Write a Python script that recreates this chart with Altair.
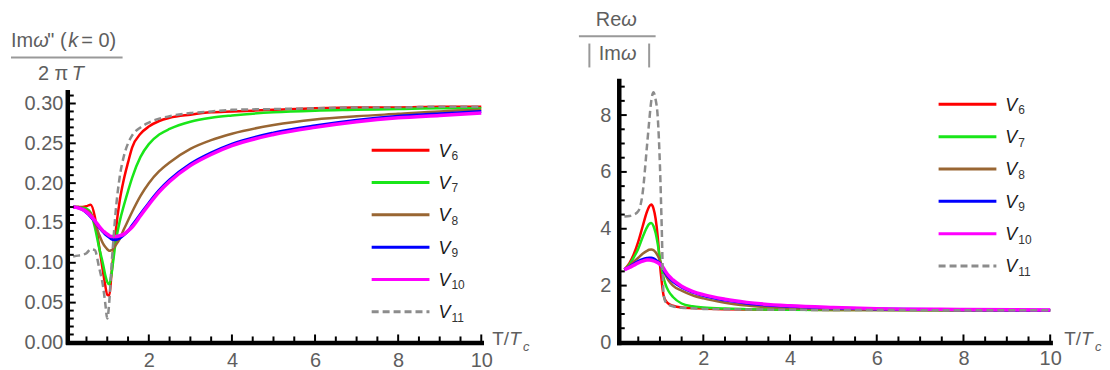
import altair as alt
import pandas as pd
import numpy as np

FONT = "Liberation Sans"
TXT = "#5e5e5e"

NAMES = ["V6", "V7", "V8", "V9", "V10", "V11"]
SUBS = ["6", "7", "8", "9", "10", "11"]
COLORS = ["#ff0000", "#19e619", "#996633", "#0000ff", "#ff00ff", "#8c8c8c"]
WIDTHS = [2.5, 2.5, 2.5, 3.0, 3.5, 2.5]
DASHED = [False, False, False, False, False, True]

# Left panel: Im w'' (k=0) / (2 pi T)  vs  T/Tc
L_X = [0.18, 0.3, 0.4, 0.5, 0.6, 0.7, 0.8, 0.9, 0.95, 1.0, 1.05, 1.1, 1.15, 1.2, 1.3, 1.4,
       1.5, 1.6, 1.8, 2.0, 2.25, 2.5, 3.0, 3.5, 4.0, 5.0, 6.0, 7.0, 8.0, 9.0, 10.0]
L_V6 = [0.170, 0.170, 0.170, 0.171, 0.173, 0.158, 0.122, 0.088, 0.072, 0.060, 0.059, 0.085,
        0.112, 0.138, 0.178, 0.205, 0.226, 0.245, 0.262, 0.271, 0.278, 0.282, 0.286, 0.289,
        0.290, 0.292, 0.294, 0.295, 0.295, 0.296, 0.296]
L_V7 = [0.170, 0.170, 0.169, 0.168, 0.163, 0.145, 0.120, 0.098, 0.085, 0.076, 0.073, 0.085,
        0.105, 0.125, 0.152, 0.172, 0.190, 0.207, 0.233, 0.249, 0.261, 0.268, 0.277, 0.282,
        0.285, 0.289, 0.291, 0.292, 0.293, 0.294, 0.294]
L_V8 = [0.170, 0.170, 0.168, 0.166, 0.162, 0.150, 0.136, 0.124, 0.120, 0.117, 0.115, 0.116,
        0.118, 0.122, 0.130, 0.142, 0.153, 0.164, 0.184, 0.200, 0.215, 0.226, 0.243, 0.254,
        0.262, 0.273, 0.280, 0.284, 0.287, 0.290, 0.292]
L_V9 = [0.170, 0.169, 0.167, 0.163, 0.158, 0.152, 0.145, 0.139, 0.136, 0.134, 0.132, 0.130,
        0.129, 0.129, 0.131, 0.135, 0.140, 0.147, 0.161, 0.175, 0.191, 0.204, 0.224, 0.238,
        0.249, 0.263, 0.272, 0.279, 0.284, 0.287, 0.290]
L_V10 = [0.170, 0.169, 0.167, 0.164, 0.159, 0.153, 0.146, 0.140, 0.138, 0.136, 0.134, 0.133,
         0.133, 0.133, 0.134, 0.136, 0.140, 0.145, 0.159, 0.173, 0.189, 0.202, 0.222, 0.236,
         0.247, 0.261, 0.270, 0.277, 0.282, 0.285, 0.288]
L_V11 = [0.108, 0.109, 0.110, 0.112, 0.117, 0.116, 0.095, 0.070, 0.050, 0.030, 0.052, 0.095,
         0.130, 0.163, 0.208, 0.234, 0.250, 0.260, 0.270, 0.276, 0.281, 0.284, 0.288, 0.290,
         0.292, 0.293, 0.294, 0.295, 0.295, 0.296, 0.296]

# Right panel: Re w / |Im w|  vs  T/Tc
R_X = [0.18, 0.3, 0.4, 0.5, 0.6, 0.7, 0.75, 0.8, 0.85, 0.9, 0.95, 1.0, 1.04, 1.08, 1.12, 1.2,
       1.3, 1.5, 1.75, 2.0, 2.5, 3.0, 4.0, 5.0, 6.0, 8.0, 10.0]
R_V6 = [2.56, 2.80, 3.12, 3.55, 4.08, 4.60, 4.78, 4.85, 4.72, 4.35, 3.70, 2.75, 2.15, 1.68,
        1.50, 1.36, 1.29, 1.23, 1.21, 1.19, 1.17, 1.16, 1.15, 1.14, 1.14, 1.13, 1.13]
R_V7 = [2.56, 2.75, 3.00, 3.30, 3.70, 4.05, 4.17, 4.20, 4.10, 3.85, 3.45, 2.95, 2.60, 2.30,
        2.08, 1.80, 1.60, 1.37, 1.27, 1.23, 1.19, 1.17, 1.15, 1.14, 1.14, 1.13, 1.13]
R_V8 = [2.56, 2.70, 2.85, 2.98, 3.12, 3.22, 3.26, 3.27, 3.25, 3.17, 3.05, 2.88, 2.72, 2.55,
        2.40, 2.18, 2.00, 1.82, 1.66, 1.55, 1.40, 1.30, 1.20, 1.16, 1.15, 1.14, 1.13]
R_V9 = [2.56, 2.66, 2.76, 2.85, 2.92, 2.96, 2.97, 2.97, 2.95, 2.90, 2.84, 2.78, 2.70, 2.58,
        2.46, 2.30, 2.15, 1.94, 1.77, 1.65, 1.49, 1.38, 1.27, 1.21, 1.18, 1.15, 1.13]
R_V10 = [2.56, 2.64, 2.72, 2.80, 2.86, 2.90, 2.90, 2.89, 2.87, 2.84, 2.80, 2.75, 2.70, 2.62,
         2.52, 2.35, 2.20, 1.98, 1.80, 1.68, 1.52, 1.41, 1.29, 1.23, 1.19, 1.16, 1.14]
R_V11 = [4.43, 4.45, 4.50, 4.62, 5.25, 6.90, 7.75, 8.50, 8.80, 8.55, 7.90, 6.20, 4.10, 1.80,
         1.45, 1.33, 1.27, 1.22, 1.20, 1.18, 1.17, 1.16, 1.15, 1.14, 1.14, 1.13, 1.13]

L_YTICKS = [0.0, 0.05, 0.10, 0.15, 0.20, 0.25, 0.30]
R_YTICKS = [0, 2, 4, 6, 8]
XTICKS = [2, 4, 6, 8, 10]

ONE = pd.DataFrame({"k": [0]})
H = 263
NB = "\u00a0"
TICKCOL = "#000000"


def text(s, x, y, size, style="normal", color=TXT, align="left"):
    return alt.Chart(ONE).mark_text(
        text=s, fontSize=size, fontStyle=style, font=FONT, color=color,
        align=align, baseline="alphabetic"
    ).encode(x=alt.value(x), y=alt.value(y))


def vrule(x1, x2, y1, y2, color, width, dash=False):
    kw = dict(color=color, strokeWidth=width)
    if dash:
        kw["strokeDash"] = [7, 4]
    return alt.Chart(ONE).mark_rule(**kw).encode(
        x=alt.value(x1), x2=alt.value(x2), y=alt.value(y1), y2=alt.value(y2))


def panel(xs, ys, W, ydom, ytop, yvals, yfmt, ylabpad, xlabpad, ystep, ymajor,
          leg_x, leg_y0, extras, ydomain_line):
    xsc = alt.Scale(domain=[0.05, 10], nice=False, zero=False)
    ysc = alt.Scale(domain=ydom, nice=False, zero=False)
    common = dict(title=None, grid=False, ticks=False, tickSize=0,
                  labelFontSize=20, labelFont=FONT, labelColor=TXT,
                  labelFlush=False, labelOverlap=False,
                  domainColor="#000000", domainWidth=4.5, domainCap="square")
    xax = alt.Axis(values=XTICKS, format="d", labelPadding=xlabpad, domain=True, **common)
    yax = alt.Axis(values=yvals, format=yfmt, labelPadding=ylabpad, domain=ydomain_line,
                   **common)
    X = alt.X("x:Q", scale=xsc, axis=xax)
    Y = alt.Y("y:Q", scale=ysc, axis=yax)

    layers = []
    # curves (V11 drawn last, on top)
    for i, name in enumerate(NAMES):
        df = pd.DataFrame({"x": xs, "y": ys[i]})
        kw = dict(color=COLORS[i], strokeWidth=WIDTHS[i], interpolate="monotone")
        if DASHED[i]:
            kw["strokeDash"] = [7, 4]
        layers.append(alt.Chart(df).mark_line(**kw).encode(x=X, y=Y))

    # y axis line only up to the plotted range (left panel)
    if not ydomain_line:
        layers.append(alt.Chart(pd.DataFrame({"y": [0.0], "y2": [ytop]})).mark_rule(
            color="#000000", strokeWidth=4.5, strokeCap="square").encode(
            y=Y, y2="y2:Q", x=alt.value(0)))
    # inward ticks
    xt = np.arange(1, 21) * 0.5
    xmaj = np.isclose(xt % 2, 0)
    layers.append(alt.Chart(pd.DataFrame({"x": xt[~xmaj]})).mark_rule(
        color=TICKCOL, strokeWidth=2).encode(x=X, y=alt.value(H), y2=alt.value(H - 6)))
    layers.append(alt.Chart(pd.DataFrame({"x": xt[xmaj]})).mark_rule(
        color=TICKCOL, strokeWidth=2).encode(x=X, y=alt.value(H), y2=alt.value(H - 8)))
    n = int(round(ytop / ystep))
    yt = np.round(np.arange(1, n + 1) * ystep, 4)
    ymaj = np.isclose(np.round(yt / ymajor, 4) % 1, 0)
    layers.append(alt.Chart(pd.DataFrame({"y": yt[~ymaj]})).mark_rule(
        color=TICKCOL, strokeWidth=2).encode(y=Y, x=alt.value(0), x2=alt.value(6)))
    layers.append(alt.Chart(pd.DataFrame({"y": yt[ymaj]})).mark_rule(
        color=TICKCOL, strokeWidth=2).encode(y=Y, x=alt.value(0), x2=alt.value(8)))

    # legend
    for i in range(len(NAMES)):
        ry = leg_y0 + i * 32.45
        layers.append(vrule(leg_x, leg_x + 58, ry, ry, COLORS[i], 3, DASHED[i]))
        layers.append(text("V", leg_x + 67, ry + 6.5, 18, "italic", "#1a1a1a"))
        layers.append(text(SUBS[i], leg_x + 80, ry + 10, 12, "normal", "#333333"))

    layers.extend(extras)
    return alt.layer(*layers).properties(width=W, height=H)


# ---------- left panel ----------
left_extras = [
    text("Im", -57, -34, 20),
    text("ω", -34.6, -34, 20, "italic"),
    text("\"" + NB + "(", -20.5, -34, 20),
    text("k", 0.5, -34, 20, "italic"),
    text(NB + "=" + NB + "0)", 13.5, -34, 20),
    vrule(-57, 55, -23, -23, "#999999", 2),
    text("2" + NB + "π", -30, 0, 20),
    text("T", 4, 0, 20, "italic"),
    text("T/", 426, 266, 19),
    text("T", 443, 266, 19, "italic"),
    text("c", 457, 272, 13, "italic"),
]
left = panel(L_X, [L_V6, L_V7, L_V8, L_V9, L_V10, L_V11], 415, [0, 0.329], 0.314,
             L_YTICKS, ".2f", 5, 8, 0.01, 0.05, 305, 70, left_extras, False)

# ---------- right panel ----------
right_extras = [
    text("Re", -23, -55, 20),
    text("ω", 2.6, -55, 20, "italic"),
    vrule(-40, 37, -44.3, -44.3, "#999999", 2),
    text("Im", -20, -20, 20),
    text("ω", 2.2, -20, 20, "italic"),
    vrule(-29.5, -29.5, -37, -13, "#999999", 2),
    vrule(30.5, 30.5, -37, -13, "#999999", 2),
    text("T/", 447, 266, 19),
    text("T", 464, 266, 19, "italic"),
    text("c", 478, 272, 13, "italic"),
]
right = panel(R_X, [R_V6, R_V7, R_V8, R_V9, R_V10, R_V11], 433, [0, 9.22], 9.22,
              R_YTICKS, "d", 8, 6, 0.5, 2, 321, 24, right_extras, True)

chart = alt.hconcat(left, right, spacing=138, bounds="flush").properties(
    padding={"left": 2, "top": 1, "right": 0, "bottom": 0}
).configure_view(strokeWidth=0)

chart.save("out.html", embed_options={"renderer": "svg", "actions": False})
